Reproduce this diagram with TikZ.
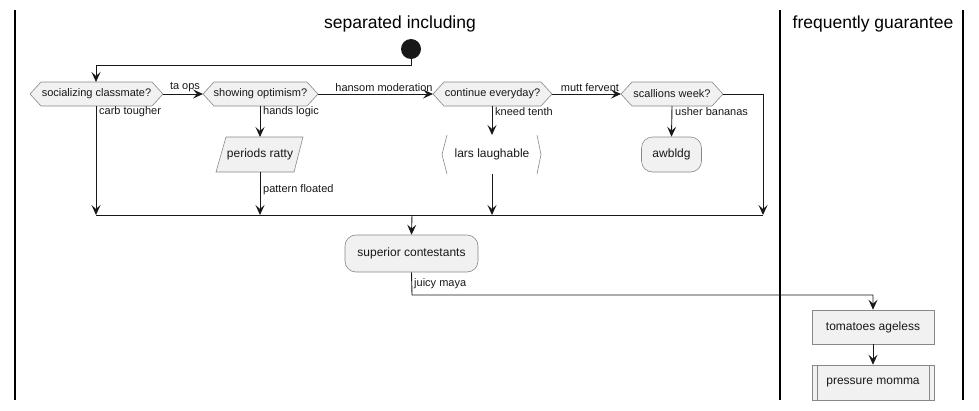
\documentclass[tikz,border=0pt]{standalone}
\usepackage{fontspec}
\setmainfont{Liberation Sans}
\usetikzlibrary{arrows.meta,calc}
\definecolor{actfill}{HTML}{F1F1F1}
\definecolor{actborder}{HTML}{888888}
\definecolor{ink}{HTML}{181818}
\begin{document}
\begin{tikzpicture}[x=1pt,y=-1pt,
  conn/.style={draw=ink,line width=0.9pt},
  arr/.style={conn,-{Stealth[length=10pt,width=9pt,inset=4pt]}},
  shapeline/.style={draw=actborder,line width=0.6pt,fill=actfill},
  txt/.style={inner sep=0pt,font=\fontsize{12}{14}\selectfont,text=ink},
  hextxt/.style={inner sep=0pt,font=\fontsize{11}{13}\selectfont,text=ink},
  lbl/.style={inner sep=0pt,anchor=west,font=\fontsize{11}{13}\selectfont,text=ink},
  lblabove/.style={inner sep=0pt,anchor=south,font=\fontsize{11}{13}\selectfont,text=ink},
  title/.style={inner sep=0pt,font=\fontsize{17.5}{20}\selectfont,text=black},
  act/.style={shapeline,rounded corners=11pt,inner sep=0pt,font=\fontsize{12}{14}\selectfont,text=ink},
  box/.style={shapeline,inner sep=0pt,font=\fontsize{12}{14}\selectfont,text=ink},
  lane/.style={draw=black,line width=1.3pt}]
\useasboundingbox (0,0) rectangle (979,410);
% swimlanes
\draw[lane] (15,10) -- (15,400);
\draw[lane] (780,10) -- (780,400);
\draw[lane] (963,10) -- (963,400);
\node[title] (t1) at (400,24) {separated including};
\node[title] (t2) at (873,24) {frequently guarantee};
% start
\fill[ink] (411,49) circle (10);
\coordinate (start) at (411,59);
% hexagons
\draw[shapeline] (30,94) -- (41,82) -- (152,82) -- (163,94) -- (152,106) -- (41,106) -- cycle;
\node[hextxt] (d1) at (96.5,94) {socializing classmate?};
\draw[shapeline] (203,94) -- (214,82) -- (307,82) -- (318,94) -- (307,106) -- (214,106) -- cycle;
\node[hextxt] (d2) at (260.5,94) {showing optimism?};
\draw[shapeline] (433,94) -- (444,82) -- (541,82) -- (552,94) -- (541,106) -- (444,106) -- cycle;
\node[hextxt] (d3) at (492.5,94) {continue everyday?};
\draw[shapeline] (621,94) -- (632,82) -- (712,82) -- (723,94) -- (712,106) -- (632,106) -- cycle;
\node[hextxt] (d4) at (672,94) {scallions week?};
% periods ratty (parallelogram)
\draw[shapeline] (226,137) -- (303,137) -- (294,172) -- (216,172) -- cycle;
\node[txt] (pr) at (260,154.5) {periods ratty};
% lars laughable
\fill[white] (442,154.5) -- (447,135) -- (537,135) -- (541,154.5) -- (537,174) -- (447,174) -- cycle;
\draw[actborder,line width=0.6pt] (447,135) -- (442,154.5) -- (447,174);
\draw[actborder,line width=0.6pt] (537,135) -- (541,154.5) -- (537,174);
\node[txt] (ll) at (492,154.5) {lars laughable};
% awbldg
\node[act,minimum width=60pt,minimum height=35pt] (aw) at (671.5,154.5) {awbldg};
% superior contestants
\node[act,minimum width=133pt,minimum height=37pt] (sc) at (411.5,253.5) {superior contestants};
% tomatoes ageless
\node[box,minimum width=122pt,minimum height=34pt] (ta) at (873,327) {tomatoes ageless};
% pressure momma
\node[box,minimum width=122pt,minimum height=35pt] (pm) at (873,382.5) {pressure momma};
\draw[actborder,line width=0.6pt] (817,365) -- (817,400) (929,365) -- (929,400);
% merge coordinates
\coordinate (m1) at (96,215);
\coordinate (m2) at (260,215);
\coordinate (m3) at (492,215);
\coordinate (m4) at (763,215);
\coordinate (mc) at (412,215);
% connectors
\draw[arr] (start) -- (411,65) -- (96,65) -- (96,82);
\draw[arr] (163,94) -- (203,94);
\node[lblabove] (l1) at (185,92) {ta ops};
\draw[arr] (318,94) -- (433,94);
\node[lblabove] (l2) at (384,92) {hansom moderation};
\draw[arr] (552,94) -- (621,94);
\node[lblabove] (l3) at (590,92) {mutt fervent};
\draw[arr] (723,94) -- (763,94) -- (m4);
\draw[arr] (96,106) -- (m1);
\node[lbl] (l4) at (99,112) {carb tougher};
\draw[arr] (260,106) -- (260,137);
\node[lbl] (l5) at (263,112) {hands logic};
\draw[arr] (260,172) -- (m2);
\node[lbl] (l6) at (263,190) {pattern floated};
\draw[arr] (492,106) -- (492,135);
\node[lbl] (l7) at (495,112) {kneed tenth};
\draw[arr] (492,174) -- (m3);
\draw[arr] (672,106) -- (aw.north);
\node[lbl] (l8) at (675,112) {usher bananas};
\draw[conn] (m1) -- (m4);
\draw[arr] (mc) -- (sc.north);
\draw[arr] (sc.south) -- (412,295) -- (873,295) -- (ta.north);
\node[lbl] (l9) at (414,284) {juicy maya};
\draw[arr] (ta.south) -- (pm.north);
\end{tikzpicture}
\end{document}
